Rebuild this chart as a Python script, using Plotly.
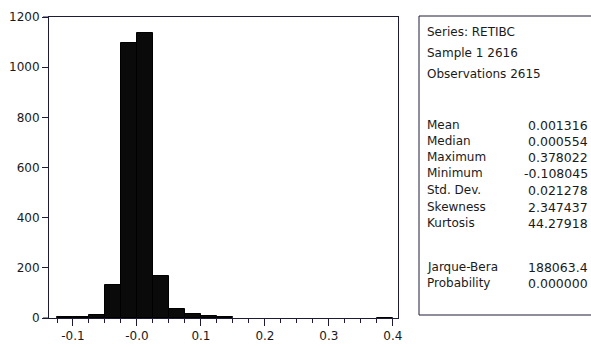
import plotly.graph_objects as go

# Histogram data (bin width 0.025)
bin_left_edges = [-0.125, -0.100, -0.075, -0.050, -0.025, 0.000, 0.025, 0.050, 0.075, 0.100, 0.125, 0.375]
counts = [3, 6, 12, 132, 1095, 1135, 168, 36, 16, 8, 3, 1]
bin_width = 0.025

x_tickvals = [-0.1, 0.0, 0.1, 0.2, 0.3, 0.4]
x_ticktext = ["-0.1", "-0.0", "0.1", "0.2", "0.3", "0.4"]
y_tickvals = [0, 200, 400, 600, 800, 1000, 1200]
y_ticktext = ["0", "200", "400", "600", "800", "1000", "1200"]

header_lines = ["Series: RETIBC", "Sample 1 2616", "Observations 2615"]
stat_names = ["Mean", "Median", "Maximum", "Minimum", "Std. Dev.", "Skewness", "Kurtosis"]
stat_values = ["0.001316", "0.000554", "0.378022", "-0.108045", "0.021278", "2.347437", "44.27918"]
test_names = ["Jarque-Bera", "Probability"]
test_values = ["188063.4", "0.000000"]

W, H = 591, 347
L, R, T, B = 49, 398, 17, 318

def px(x):
    return (x - L) / (R - L)

def py(y):
    return (B - y) / (B - T)

centers = [e + bin_width / 2 for e in bin_left_edges]

fig = go.Figure()
fig.add_trace(go.Bar(
    x=centers, y=counts, width=bin_width,
    marker=dict(color="#0a0a0a", line=dict(color="#000000", width=1)),
    hoverinfo="x+y",
))

label_font = dict(family="DejaVu Sans, sans-serif", size=12, color="#1a1a1a")
value_font = dict(family="DejaVu Sans, Liberation Sans, sans-serif", size=12.5, color="#1a1a1a")
tick_font = dict(family="DejaVu Sans, sans-serif", size=12, color="#1a1a1a")
line_col = "#1c1c3a"

fig.update_layout(
    width=W, height=H,
    margin=dict(l=L, r=W - R, t=T, b=H - B, autoexpand=False),
    paper_bgcolor="white", plot_bgcolor="white",
    showlegend=False,
    bargap=0,
    font=label_font,
    xaxis=dict(
        range=[-0.1375, 0.408],
        tickvals=x_tickvals, ticktext=x_ticktext,
        ticks="outside", ticklen=7, tickcolor=line_col, tickwidth=1,
        minor=dict(dtick=0.025, tick0=0, ticks="outside", ticklen=4, tickcolor=line_col),
        showline=True, linecolor=line_col, linewidth=1, mirror=True,
        showgrid=False, zeroline=False,
        tickfont=tick_font, automargin=False,
    ),
    yaxis=dict(
        range=[0, 1200],
        tickvals=y_tickvals, ticktext=y_ticktext,
        ticks="outside", ticklen=6, tickcolor=line_col,
        showline=True, linecolor=line_col, linewidth=1, mirror=True,
        showgrid=False, zeroline=False,
        tickfont=tick_font, automargin=False,
    ),
)

# small extensions of top / bottom frame lines to the left of the y axis
for yy in (0, 1):
    fig.add_shape(type="line", xref="paper", yref="paper",
                  x0=px(43), x1=0, y0=yy, y1=yy,
                  line=dict(color=line_col, width=1))

# stats box
fig.add_shape(type="rect", xref="paper", yref="paper",
              x0=px(419), x1=px(600), y0=py(315), y1=py(16),
              line=dict(color=line_col, width=1), fillcolor="white")

def add_text(text, x, y, anchor, font):
    fig.add_annotation(text=text, xref="paper", yref="paper", x=px(x), y=py(y),
                       xanchor=anchor, yanchor="middle", showarrow=False,
                       font=font)

header_y = [32, 53, 74]
for t, y in zip(header_lines, header_y):
    add_text(t, 425, y, "left", label_font)

stat_y = [125, 141, 157, 173, 190, 207, 223]
for n, v, y in zip(stat_names, stat_values, stat_y):
    add_text(n, 425, y, "left", label_font)
    add_text(v, 590, y, "right", value_font)

test_y = [267, 283]
for n, v, y in zip(test_names, test_values, test_y):
    add_text(n, 425, y, "left", label_font)
    add_text(v, 590, y, "right", value_font)

fig.write_html("out.html", config={"displayModeBar": False},
               post_script="document.body.style.margin='0';document.body.style.overflow='hidden';")
